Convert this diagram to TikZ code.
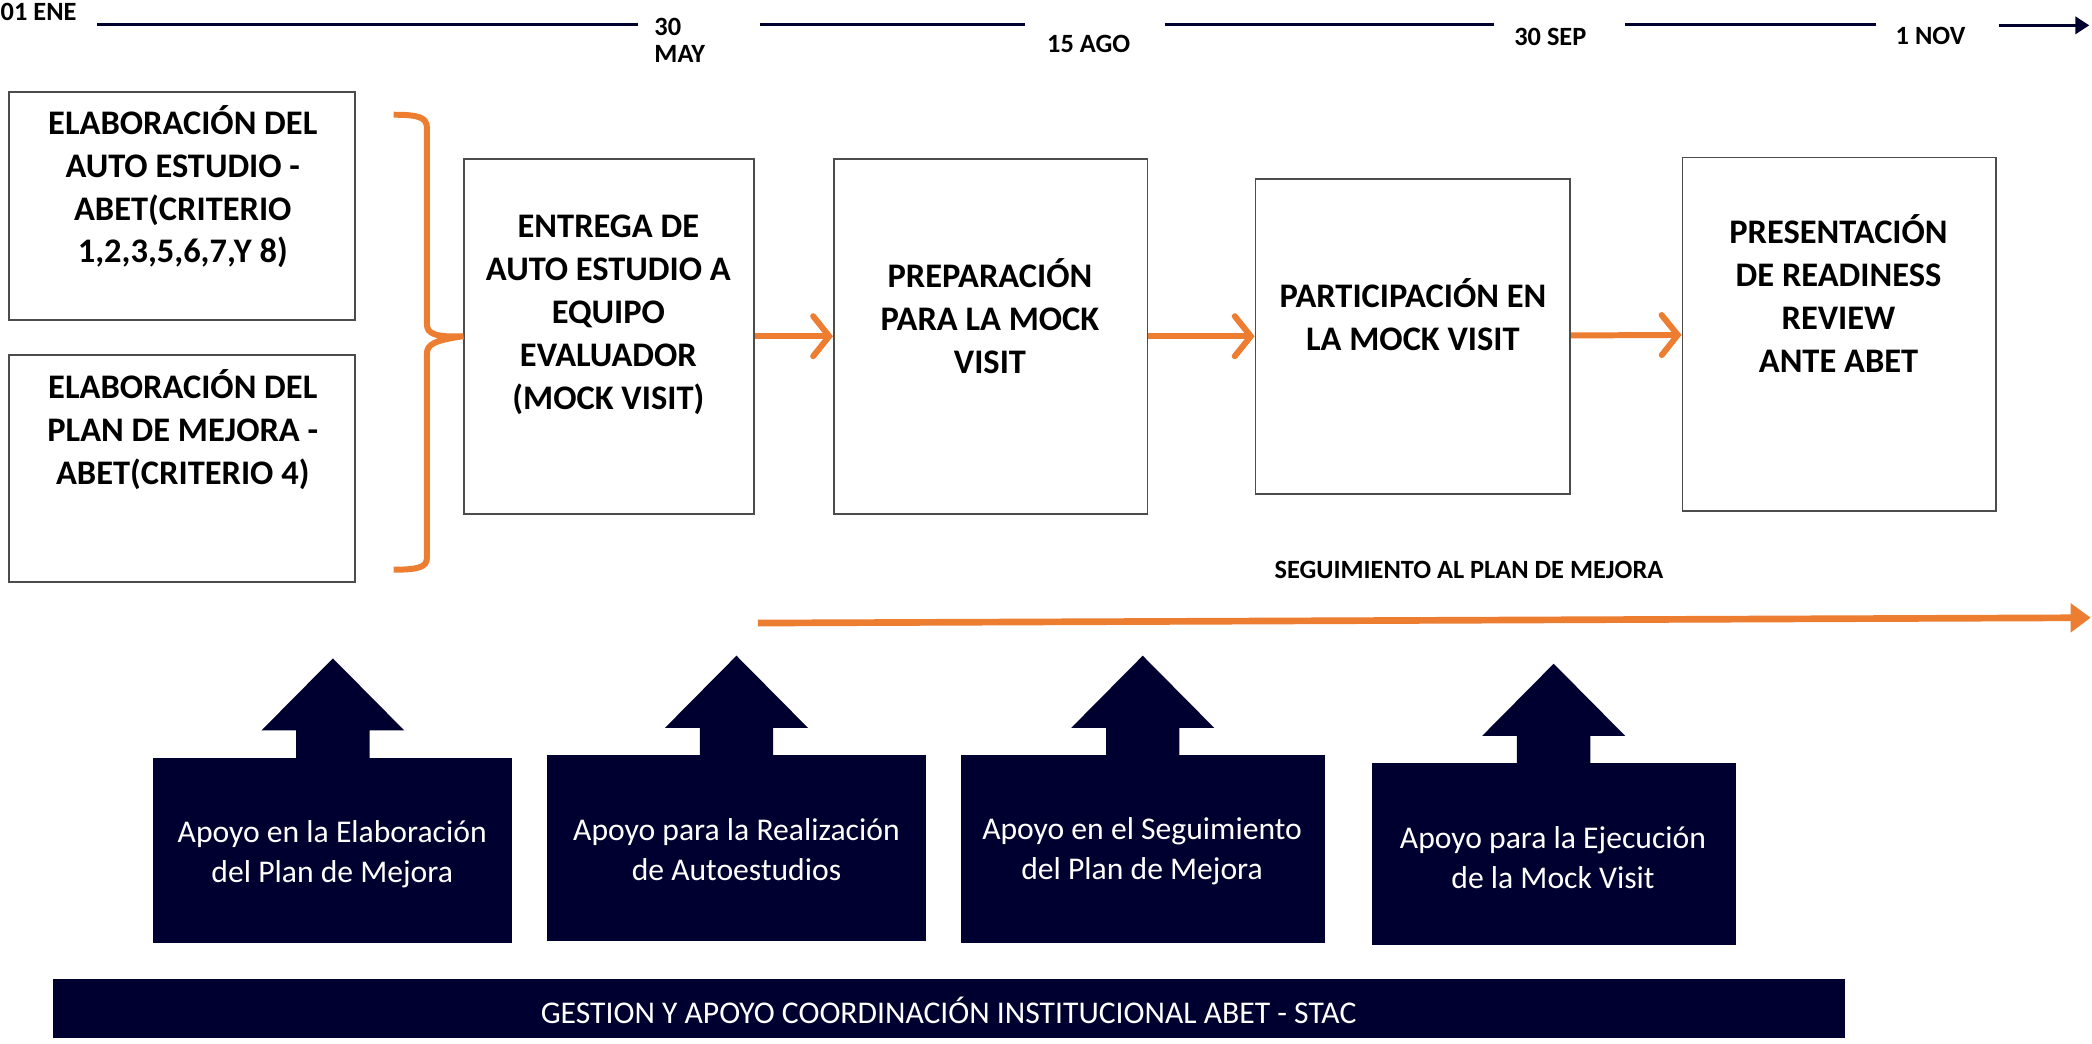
\documentclass[tikz,border=0pt]{standalone}
\usepackage{fontspec}
\setmainfont{Carlito}
\usetikzlibrary{arrows.meta,fit}
\definecolor{azul}{HTML}{000030}
\definecolor{naranja}{HTML}{ED7D31}

\begin{document}
\begin{tikzpicture}[x=0.013342cm, y=-0.013342cm,
    wbox/.style={draw=gray!60!black, line width=0.5pt, inner sep=0pt},
    btxt/.style={align=center, inner sep=0pt, font=\bfseries\fontsize{9.8}{12.2}\selectfont},
    nbox/.style={fill=azul, inner sep=0pt},
    ntxt/.style={align=center, inner sep=0pt, text=white, font=\fontsize{9}{11.4}\selectfont},
    tlab/.style={inner sep=0pt, font=\bfseries\fontsize{7.5}{8.7}\selectfont},
    tline/.style={draw=azul, line width=1pt},
    flow/.style={draw=naranja, line width=1.7pt, -{Straight Barb[length=1.6mm,width=4mm,line cap=round]}}]

  \useasboundingbox (0,0) rectangle (1568,782);

  % linea de tiempo
  \node[tlab, anchor=west] (ene) at (0,9) {01 ENE};
  \node[tlab, anchor=west, align=left] (may) at (490,30) {30\\[-1pt]MAY};
  \node[tlab] (ago) at (816,33) {15 AGO};
  \node[tlab] (sep) at (1162,28) {30 SEP};
  \node[tlab] (nov) at (1447,27) {1 NOV};
  \coordinate (fin) at (1566,19);

  \foreach \a/\b in {73/478, 570/768, 873/1120, 1218/1406}
    \draw[tline] (\a,18.5) -- (\b,18.5);
  \draw[tline, -{Triangle[length=1.4mm,width=1.7mm]}] (1498,19) -- (fin);

  % cajas blancas
  \node[wbox, fit={(7,69) (266,240)}] (A) {};
  \node[wbox, fit={(7,266) (266,436)}] (B) {};
  \node[wbox, fit={(348,119) (565,385)}] (C) {};
  \node[wbox, fit={(625,119) (860,385)}] (D) {};
  \node[wbox, fit={(941,134) (1177,370)}] (E) {};
  \node[wbox, fit={(1261,118) (1496,383)}] (F) {};

  \node[btxt] (tA) at (137,140) {ELABORACIÓN DEL\\AUTO ESTUDIO -\\ABET(CRITERIO\\1,2,3,5,6,7,Y 8)};
  \node[btxt] (tB) at (137,322) {ELABORACIÓN DEL\\PLAN DE MEJORA -\\ABET(CRITERIO 4)};
  \node[btxt] (tC) at (456,236) {ENTREGA DE\\AUTO ESTUDIO A\\EQUIPO\\EVALUADOR\\(MOCK VISIT)};
  \node[btxt] (tD) at (742,237) {PREPARACIÓN\\PARA LA MOCK\\VISIT};
  \node[btxt] (tE) at (1059,236) {PARTICIPACIÓN EN\\LA MOCK VISIT};
  \node[btxt] (tF) at (1378,220) {PRESENTACIÓN\\DE READINESS\\REVIEW\\ANTE ABET};

  % llave
  \coordinate (ba) at (295,86);
  \coordinate (bb) at (295,427);
  \draw[naranja, line width=1.7pt]
    (ba) .. controls (314,86) and (320,88) .. (320,96) -- (320,243)
    .. controls (320,250) and (326,253) .. (C.west)
    .. controls (326,255) and (320,258) .. (320,265) -- (320,418)
    .. controls (320,425) and (314,427) .. (bb);

  \path[flow] (C) edge (D)
              (D) edge (E)
              (E) edge (F);

  % seguimiento
  \node[tlab] (seg) at (1101,427) {SEGUIMIENTO AL PLAN DE MEJORA};
  \coordinate (s0) at (568,467);
  \coordinate (s1) at (1567,463);
  \draw[naranja, line width=1.9pt, -{Triangle[length=2mm,width=2.8mm]}] (s0) -- (s1);

  % apoyos
  \node[nbox, fit={(115,568) (384,707)}] (b1) {};
  \node[nbox, fit={(410,566) (694,705)}] (b2) {};
  \node[nbox, fit={(720,566) (993,707)}] (b3) {};
  \node[nbox, fit={(1028,572) (1301,708)}] (b4) {};
  \node[nbox, fit={(40,734) (1383,778)}] (gest) {};

  \foreach \b in {b1,b2,b3,b4}
    \fill[azul] (\b.north) ++(-27.5,1) -- ++(0,-21) -- ++(-26,0) -- ++(53.5,-54)
      -- ++(53.5,54) -- ++(-26,0) -- ++(0,21) -- cycle;

  \node[ntxt] (t1) at (249,640) {Apoyo en la Elaboración\\del Plan de Mejora};
  \node[ntxt] (t2) at (552,637) {Apoyo para la Realización\\de Autoestudios};
  \node[ntxt] (t3) at (856,638) {Apoyo en el Seguimiento\\del Plan de Mejora};
  \node[ntxt] (t4) at (1164,643) {Apoyo para la Ejecución\\de la Mock Visit};
  \node[ntxt] (tg) at (711,757) {GESTION Y APOYO COORDINACIÓN INSTITUCIONAL ABET - STAC};

\end{tikzpicture}
\end{document}
